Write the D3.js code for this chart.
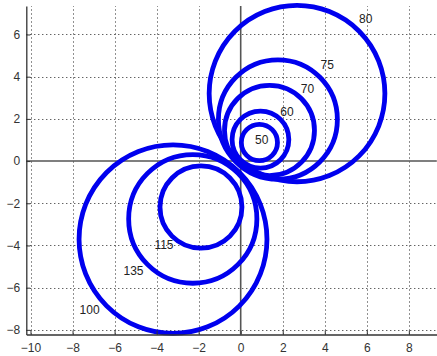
<!DOCTYPE html>
<html>
<head>
<meta charset="utf-8">
<script src="https://cdn.jsdelivr.net/npm/d3@7"></script>
<style>
  html, body { margin: 0; padding: 0; background: #fff; }
  svg { display: block; }
  text { font-family: "Liberation Sans", Arial, Helvetica, sans-serif; }
</style>
</head>
<body>
<svg id="chart" width="437" height="356"></svg>
<script>
// Curve labels (one per loop)
const labels = ["80", "75", "70", "60", "50", "100", "135", "115"];
// Loop centres and radii, in axis units
const centerX = [2.68, 1.77, 1.37, 0.94, 0.89, -3.22, -2.28, -1.89];
const centerY = [3.20, 1.97, 1.45, 1.02, 0.88, -3.70, -2.74, -2.18];
const radius  = [4.18, 2.83, 2.14, 1.35, 0.86, 4.47, 3.05, 1.95];
// Where each label text sits, in axis units
const labelX = [5.95, 4.12, 3.18, 2.20, 1.00, -7.19, -5.10, -3.65];
const labelY = [6.73, 4.57, 3.43, 2.34, 1.02, -7.08, -5.19, -4.00];

const xTicks = [-10, -8, -6, -4, -2, 0, 2, 4, 6, 8];
const yTicks = [-8, -6, -4, -2, 0, 2, 4, 6];

const svg = d3.select("#chart");
const x = d3.scaleLinear().domain([-10.2, 9.33]).range([26.3, 436.8]);
const y = d3.scaleLinear().domain([-8.22, 7.35]).range([334.5, 6]);

const x0 = x.range()[0], x1 = x.range()[1];
const y0 = y.range()[0], y1 = y.range()[1];

// dotted grid
const grid = svg.append("g").attr("stroke", "#222").attr("stroke-width", 1)
  .attr("stroke-dasharray", "1,3");
grid.selectAll("line.v").data(xTicks.filter(d => d !== 0)).join("line")
  .attr("x1", d => Math.round(x(d)) + 0.5).attr("x2", d => Math.round(x(d)) + 0.5)
  .attr("y1", y0).attr("y2", y1);
grid.selectAll("line.h").data(yTicks.filter(d => d !== 0)).join("line")
  .attr("y1", d => Math.round(y(d)) + 0.5).attr("y2", d => Math.round(y(d)) + 0.5)
  .attr("x1", x0).attr("x2", x1);

// zero lines
svg.append("line").attr("x1", x0).attr("x2", x1)
  .attr("y1", y(0)).attr("y2", y(0)).attr("stroke", "#555").attr("stroke-width", 1.6);
svg.append("line").attr("x1", x(0)).attr("x2", x(0))
  .attr("y1", y0).attr("y2", y1).attr("stroke", "#555").attr("stroke-width", 1.6);

// loops
const loops = labels.map((l, i) => ({ l, cx: centerX[i], cy: centerY[i], r: radius[i] }));
svg.append("g").selectAll("ellipse").data(loops).join("ellipse")
  .attr("cx", d => x(d.cx)).attr("cy", d => y(d.cy))
  .attr("rx", d => x(d.r) - x(0)).attr("ry", d => y(0) - y(d.r))
  .attr("fill", "none").attr("stroke", "#0000ee").attr("stroke-width", 4.8);

// axes (ticks point inward)
const xAxis = svg.append("g").attr("transform", `translate(0,${y0})`)
  .call(d3.axisBottom(x).tickValues(xTicks).tickSizeInner(-4).tickSizeOuter(0).tickPadding(9));
const yAxis = svg.append("g").attr("transform", `translate(${x0},0)`)
  .call(d3.axisLeft(y).tickValues(yTicks).tickSizeInner(-4).tickSizeOuter(0).tickPadding(8));
[xAxis, yAxis].forEach(a => {
  a.select(".domain").attr("stroke", "#333").attr("stroke-width", 1.3);
  a.selectAll(".tick line").attr("stroke", "#333");
  a.selectAll(".tick text").attr("fill", "#333").attr("font-size", 12)
    .attr("font-family", '"Liberation Sans", Arial, sans-serif');
});
yAxis.selectAll(".tick text").attr("x", -6);

// loop labels
svg.append("g").selectAll("text").data(labels).join("text")
  .attr("x", (d, i) => x(labelX[i])).attr("y", (d, i) => y(labelY[i]))
  .attr("text-anchor", "middle").attr("dominant-baseline", "central")
  .attr("font-size", 12).attr("fill", "#222").text(d => d);
</script>
</body>
</html>
